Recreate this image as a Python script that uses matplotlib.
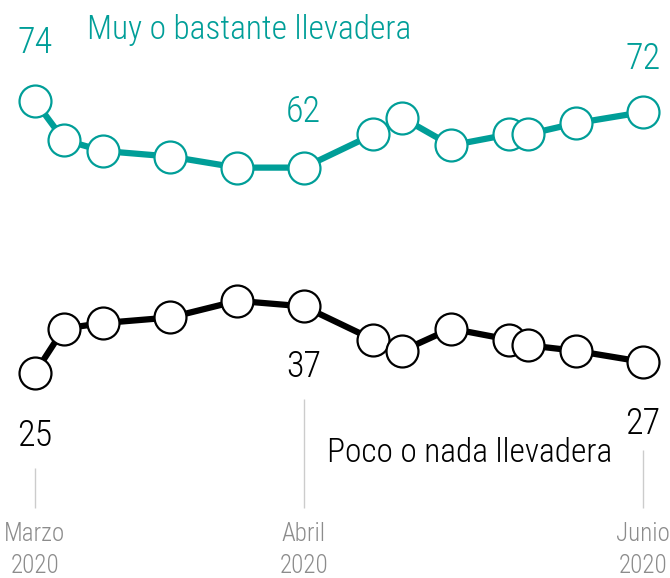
import matplotlib
matplotlib.use("Agg")
import matplotlib.pyplot as plt
import matplotlib.font_manager as fm

# survey positions (days since first survey)
dias = [0, 3.6, 8.5, 16.9, 25.3, 33.6, 42.3, 45.9, 52, 59.3, 61.6, 67.6, 76]
llevadera = [74, 67, 65, 64, 62, 62, 68, 71, 66, 68, 68, 70, 72]
no_llevadera = [25, 33, 34, 35, 38, 37, 31, 29, 33, 31, 30, 29, 27]
tick_pos = [0, 33.6, 76]
tick_labels = ["Marzo\n2020", "Abril\n2020", "Junio\n2020"]

TEAL = "#009e98"

names = {f.name for f in fm.fontManager.ttflist}
fam = [f for f in ["Roboto Condensed", "Liberation Sans Narrow", "DejaVu Sans"] if f in names]
plt.rcParams["font.family"] = fam

fig = plt.figure(figsize=(6.7, 5.78), dpi=100)
ax = fig.add_axes([0, 0, 1, 1])

# map data so first point sits at x=35px, last at x=643px; 74 at y=101px, 25 at y=373px
pxd = (643 - 35) / (dias[-1] - dias[0])
ax.set_xlim(dias[0] - 35 / pxd, dias[-1] + (670 - 643) / pxd)
pyu = (373 - 101) / (74 - 25)
ax.set_ylim(25 - (578 - 373) / pyu, 74 + 101 / pyu)
ax.axis("off")

# grey guide lines above the tick labels
ax.vlines(tick_pos[0], 25 - (508 - 373) / pyu, 25 - (468 - 373) / pyu, color="#cccccc", lw=1)
ax.vlines(tick_pos[1], 25 - (508 - 373) / pyu, 25 - (399 - 373) / pyu, color="#cccccc", lw=1)
ax.vlines(tick_pos[2], 25 - (508 - 373) / pyu, 25 - (450 - 373) / pyu, color="#cccccc", lw=1)

mk = dict(marker="o", ms=23, mfc="white", mew=1.6, lw=4.5, solid_joinstyle="round")
ax.plot(dias, llevadera, color=TEAL, mec=TEAL, **mk)
ax.plot(dias, no_llevadera, color="black", mec="black", **mk)

fs = 26
ax.text(dias[0], llevadera[0] + 8.6, str(llevadera[0]), color=TEAL, fontsize=fs, ha="center", va="baseline", fontweight="light")
ax.text(dias[5], llevadera[5] + 8.3, str(llevadera[5]), color=TEAL, fontsize=fs, ha="center", va="baseline", fontweight="light")
ax.text(dias[-1], llevadera[-1] + 7.7, str(llevadera[-1]), color=TEAL, fontsize=fs, ha="center", va="baseline", fontweight="light")
ax.text(dias[5], no_llevadera[5] - 12.7, str(no_llevadera[5]), color="black", fontsize=fs, ha="center", va="baseline", fontweight="light")
ax.text(dias[0], no_llevadera[0] - 13.1, str(no_llevadera[0]), color="black", fontsize=fs, ha="center", va="baseline", fontweight="light")
ax.text(dias[-1], no_llevadera[-1] - 12.9, str(no_llevadera[-1]), color="black", fontsize=fs, ha="center", va="baseline", fontweight="light")

ax.text(dias[0] + 52 / pxd, 74 + (101 - 39) / pyu, "Muy o bastante llevadera", color=TEAL, fontsize=24,
        ha="left", va="baseline", fontweight="light")
ax.text(dias[0] + 292 / pxd, 25 - (462 - 373) / pyu, "Poco o nada llevadera", color="black", fontsize=24,
        ha="left", va="baseline", fontweight="light")

for p, lab in zip(tick_pos, tick_labels):
    ax.text(p, 25 - (522 - 373) / pyu, lab, color="#8c8c8c", fontsize=18, ha="center", va="top",
            linespacing=1.4, fontweight="light")

fig.savefig("out.png", dpi=100)
